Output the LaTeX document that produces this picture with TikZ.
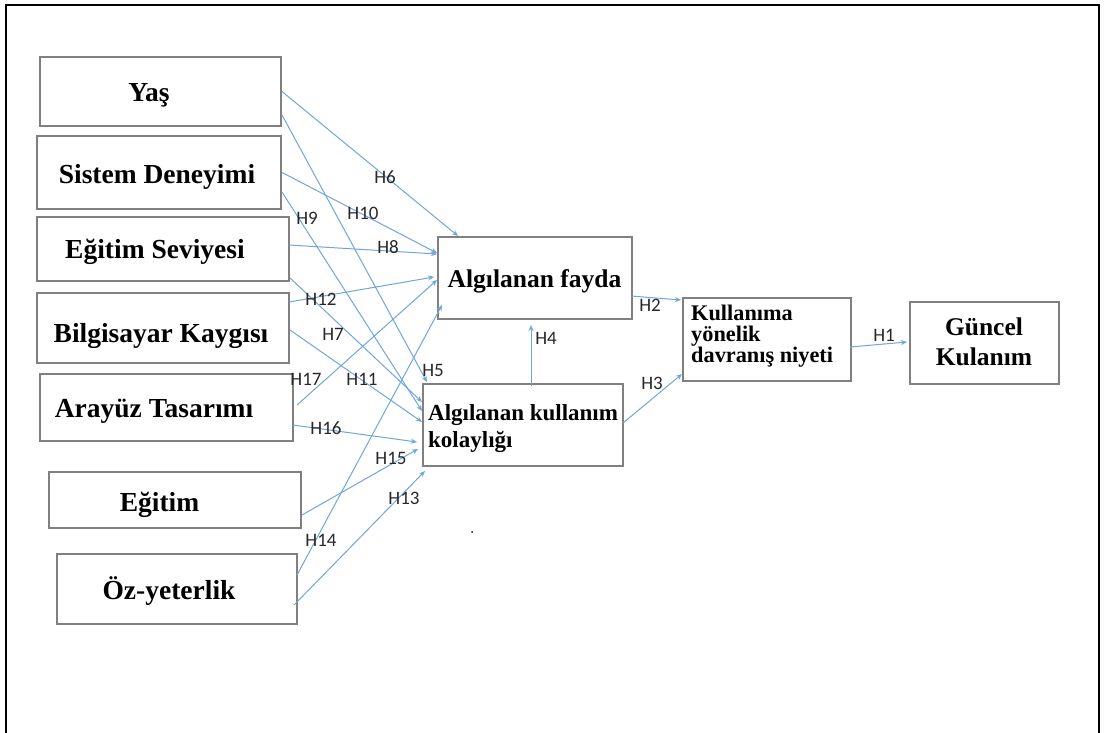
\documentclass[tikz,border=0pt]{standalone}
\usepackage{fontspec}
\setmainfont{Liberation Serif}
\newfontfamily\hfont{Carlito}
\usetikzlibrary{arrows.meta,calc}
\definecolor{boxgray}{RGB}{128,128,128}
\definecolor{linkblue}{RGB}{112,166,220}
\definecolor{tagtext}{RGB}{40,40,40}
\begin{document}
\begin{tikzpicture}[x=1pt,y=-1pt,
  box/.style={draw=boxgray, line width=1.4pt, inner sep=0pt, outer sep=0pt, fill=white},
  lefttxt/.style={font=\bfseries\fontsize{27.5}{30}\selectfont, inner sep=0pt, anchor=base},
  link/.style={draw=linkblue, line width=1pt, -{Stealth[length=6pt,width=5pt]}},
  tag/.style={font=\hfont\fontsize{19}{20}\selectfont, text=tagtext, inner sep=0pt}]

\useasboundingbox (0,0) rectangle (1105,733);
\clip (0,0) rectangle (1105,733);
\fill[white] (0,0) rectangle (1105,733);

% outer frame, open at the bottom
\draw[line width=2pt] (6,745) -- (6,5) -- (1099,5) -- (1099,745);

% factor boxes on the left
\node[box, minimum width=241pt, minimum height=69pt] (yas) at (160.5,91.5) {};
\node[box, minimum width=244pt, minimum height=73pt] (sis) at (159,172.5) {};
\node[box, minimum width=252pt, minimum height=64pt] (egs) at (163,249) {};
\node[box, minimum width=252pt, minimum height=70pt] (bil) at (163,328) {};
\node[box, minimum width=253pt, minimum height=67pt] (ara) at (166.5,407.5) {};
\node[box, minimum width=252pt, minimum height=56pt] (egt) at (175,500) {};
\node[box, minimum width=240pt, minimum height=70pt] (oz)  at (177,589) {};

\node[lefttxt] (yas-t) at (149,102) {Yaş};
\node[lefttxt] (sis-t) at (157,183) {Sistem Deneyimi};
\node[lefttxt] (egs-t) at (155,258) {Eğitim Seviyesi};
\node[lefttxt] (bil-t) at (161,342) {Bilgisayar Kaygısı};
\node[lefttxt] (ara-t) at (154,417) {Arayüz Tasarımı};
\node[lefttxt] (egt-t) at (159.5,511) {Eğitim};
\node[lefttxt] (oz-t)  at (169,599) {Öz-yeterlik};

% model constructs
\node[box, minimum width=194pt, minimum height=82pt] (fay) at (535,278) {};
\node[box, minimum width=200pt, minimum height=82pt] (kol) at (523,425) {};
\node[box, minimum width=168pt, minimum height=83pt] (niy) at (767,339.5) {};
\node[box, minimum width=149pt, minimum height=82pt] (gun) at (984.5,343) {};

% multi-line texts are placed by the baseline of their last line
\node[font=\bfseries\fontsize{25.5}{30}\selectfont, inner sep=0pt, anchor=base] (fay-t) at (534.5,287) {Algılanan fayda};
\node[font=\bfseries\fontsize{23}{27}\selectfont, inner sep=0pt, anchor=base west, align=left] (kol-t) at (428,447) {Algılanan kullanım\\kolaylığı};
\node[font=\bfseries\fontsize{22.3}{21}\selectfont, inner sep=0pt, anchor=base west, align=left] (niy-t) at (691,362) {Kullanıma\\yönelik\\davranış niyeti};
\node[font=\bfseries\fontsize{25.5}{30}\selectfont, inner sep=0pt, anchor=base, align=center] (gun-t) at (984,365) {Güncel\\Kulanım};

% hypothesised paths
\draw[link] ($(yas.east)+(1,0)$)      -- ($(fay.north west)+(20,-1)$);
\draw[link] ($(yas.east)+(1,23.5)$)   -- ($(kol.north west)+(4,-2)$);
\draw[link] ($(sis.east)+(1,0)$)      -- ($(fay.north west)+(-1,16)$);
\draw[link] ($(sis.east)+(1,19.5)$)   -- ($(kol.north west)+(-1,27)$);
\draw[link] ($(egs.east)+(0,-4)$)     -- ($(fay.north west)+(-1,17)$);
\draw[link] ($(egs.east)+(1,29)$)     -- ($(kol.north west)+(-1,18)$);
\draw[link] ($(bil.east)+(0,-26)$)    -- ($(fay.north west)+(-4,40)$);
\draw[link] ($(bil.east)+(1,2)$)      -- ($(kol.north west)+(-1,38)$);
\draw[link] ($(ara.east)+(4,-2.5)$)   -- ($(fay.north west)+(-1,43)$);
\draw[link] ($(ara.east)+(0,17.5)$)   -- ($(kol.west)+(-6,17)$);
\draw[link] ($(egt.east)+(1,15)$)     -- ($(kol.west)+(-5,24)$);
\draw[link] ($(oz.east)+(0,-14)$)     -- ($(fay.south west)+(4,-14)$);
\draw[link] ($(oz.east)+(-3,16)$)     -- ($(kol.south west)+(2,5)$);
\draw[link] ($(fay.east)+(-1,18)$)    -- ($(niy.west)+(-2,-39.5)$);
\draw[link] ($(kol.east)+(0,-2)$)     -- ($(niy.south west)+(-1,-7)$);
\draw[link] ($(kol.north)+(8,2)$)     -- ($(fay.south)+(-4,6)$);
\draw[link] ($(niy.east)+(-1,7.5)$)   -- ($(gun.west)+(-3,-1)$);

% path labels
\node[tag] (h6)  at (385,177) {H6};
\node[tag] (h10) at (363,213) {H10};
\node[tag] (h9)  at (307,218) {H9};
\node[tag] (h8)  at (388,247) {H8};
\node[tag] (h12) at (321,299) {H12};
\node[tag] (h7)  at (333,334) {H7};
\node[tag] (h17) at (306,379) {H17};
\node[tag] (h11) at (362,379) {H11};
\node[tag] (h5)  at (433,370) {H5};
\node[tag] (h16) at (326,428) {H16};
\node[tag] (h15) at (391,458) {H15};
\node[tag] (h13) at (404,498) {H13};
\node[tag] (h14) at (321,540) {H14};
\node[tag] (h4)  at (546,338) {H4};
\node[tag] (h2)  at (650,305) {H2};
\node[tag] (h3)  at (652,383) {H3};
\node[tag] (h1)  at (884,335) {H1};

% stray point
\fill[black!70!red] (472,532) circle (1pt);
\end{tikzpicture}
\end{document}
